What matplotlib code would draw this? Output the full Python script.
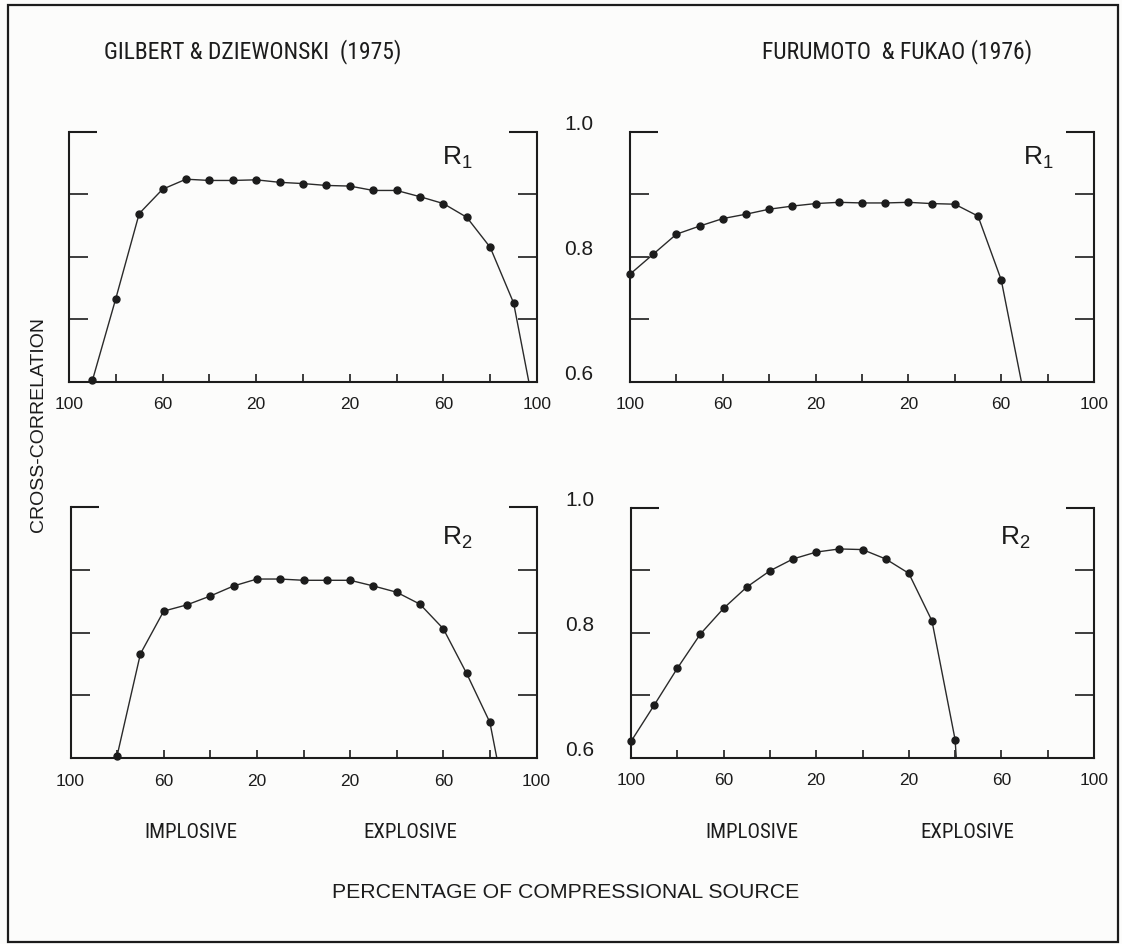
import matplotlib
matplotlib.use("Agg")
import matplotlib.pyplot as plt
from matplotlib import transforms, font_manager
from matplotlib.patches import Rectangle

W, H, DPI = 1122, 944, 100
INK = "#1c1c1c"
REGULAR = ["Liberation Sans", "DejaVu Sans"]

# Pick a condensed face for the lettering-style labels, if one is installed
_fonts = font_manager.fontManager.ttflist
_names = {f.name for f in _fonts}
NARROW, STRETCH, SCALE = "Liberation Sans", "normal", 0.82
for cand in ["Liberation Sans Narrow", "Roboto Condensed", "DejaVu Sans Condensed",
             "Open Sans Condensed", "Noto Sans Condensed", "Arial Narrow"]:
    if cand in _names:
        NARROW, STRETCH, SCALE = cand, "normal", 1.0
        break
else:
    for f in _fonts:
        if f.stretch in ("condensed", "semi-condensed") and f.style == "normal" \
                and f.weight in (400, "normal", "regular"):
            NARROW, STRETCH, SCALE = f.name, f.stretch, 1.0
            break

# Percentage of compressional source: negative = implosive, positive = explosive
pct_gd_r1 = [-90, -80, -70, -60, -50, -40, -30, -20, -10, 0, 10, 20, 30, 40, 50, 60, 70, 80, 90]
gd_r1 = [0.602, 0.733, 0.869, 0.908, 0.924, 0.922, 0.922, 0.923, 0.919, 0.917,
         0.914, 0.913, 0.906, 0.906, 0.896, 0.885, 0.863, 0.815, 0.726]
gd_r1_end = (96.5, 0.60)

pct_ff_r1 = [-100, -90, -80, -70, -60, -50, -40, -30, -20, -10, 0, 10, 20, 30, 40, 50, 60]
ff_r1 = [0.772, 0.804, 0.836, 0.849, 0.861, 0.868, 0.876, 0.881, 0.885, 0.887,
         0.886, 0.886, 0.887, 0.885, 0.884, 0.865, 0.763]
ff_r1_end = (68.7, 0.60)

pct_gd_r2 = [-80, -70, -60, -50, -40, -30, -20, -10, 0, 10, 20, 30, 40, 50, 60, 70, 80]
gd_r2 = [0.604, 0.766, 0.834, 0.844, 0.858, 0.874, 0.885, 0.885, 0.883, 0.883,
         0.883, 0.874, 0.864, 0.845, 0.806, 0.735, 0.657]
gd_r2_end = (83.0, 0.60)

pct_ff_r2 = [-100, -90, -80, -70, -60, -50, -40, -30, -20, -10, 0, 10, 20, 30, 40]
ff_r2 = [0.626, 0.684, 0.743, 0.798, 0.839, 0.873, 0.899, 0.918, 0.929, 0.934,
         0.933, 0.918, 0.895, 0.819, 0.629]
ff_r2_end = (40.5, 0.60)

x_ticks = list(range(-100, 101, 20))
x_tick_labels = ["100", "", "60", "", "20", "", "20", "", "60", "", "100"]
y_labels = [1.0, 0.8, 0.6]

fig = plt.figure(figsize=(W / DPI, H / DPI), dpi=DPI, facecolor="#fcfcfb")


def nfont(size):
    return dict(fontfamily=NARROW, fontstretch=STRETCH, fontsize=size * SCALE, color=INK)


def px_axes(left, top, right, bottom):
    return fig.add_axes([left / W, 1 - bottom / H, (right - left) / W, (bottom - top) / H])


def setup(ax):
    ax.set_facecolor("none")
    ax.set_xlim(-100, 100)
    ax.set_ylim(0.6, 1.0)
    ax.spines["top"].set_visible(False)
    for s in ("left", "right", "bottom"):
        ax.spines[s].set_linewidth(1.5)
        ax.spines[s].set_color(INK)
    ax.set_xticks(x_ticks)
    ax.set_xticklabels(x_tick_labels, fontfamily=REGULAR, fontsize=12.5, color=INK)
    ax.set_xticks([0], minor=True)
    ax.tick_params(axis="x", which="major", direction="in", length=6, width=1.2,
                   pad=11, colors=INK)
    ax.tick_params(axis="x", which="minor", direction="inout", length=40, width=1.4,
                   colors=INK)
    ax.set_yticks([0.7, 0.8, 0.9])
    ax.set_yticks([1.0], minor=True)
    ax.tick_params(axis="y", which="both", direction="in", left=True, right=True,
                   labelleft=False, labelright=False, colors=INK)
    ax.tick_params(axis="y", which="major", length=14, width=1.2)
    ax.tick_params(axis="y", which="minor", length=20, width=1.5)


def curve(ax, pct, vals, end):
    ax.plot(list(pct) + [end[0]], list(vals) + [end[1]], "-", color="#2a2a2a", lw=1.0)
    ax.plot(pct, vals, "o", color=INK, ms=5, clip_on=False)


def r_label(ax_px_left, ax_px_top, sub):
    fig.text(ax_px_left / W, 1 - ax_px_top / H, r"$\mathregular{R_%s}$" % sub,
             fontfamily=REGULAR, fontsize=19, color=INK, ha="left", va="top")


def y_value_labels(ax):
    tr = transforms.offset_copy(ax.transData, fig=fig, x=-51, y=7, units="dots")
    for v in y_labels:
        ax.text(-100, v, f"{v:.1f}", transform=tr, ha="center", va="center",
                fontfamily=REGULAR, fontsize=15, color=INK)


ax_tl = px_axes(69, 131.7, 537, 381.7)
ax_tr = px_axes(630, 131.7, 1094, 381.7)
ax_bl = px_axes(70.5, 506.7, 536.5, 758.3)
ax_br = px_axes(631, 507.7, 1094, 757.7)

for ax in (ax_tl, ax_tr, ax_bl, ax_br):
    setup(ax)

curve(ax_tl, pct_gd_r1, gd_r1, gd_r1_end)
curve(ax_tr, pct_ff_r1, ff_r1, ff_r1_end)
curve(ax_bl, pct_gd_r2, gd_r2, gd_r2_end)
curve(ax_br, pct_ff_r2, ff_r2, ff_r2_end)

y_value_labels(ax_tr)
y_value_labels(ax_br)

r_label(442, 145, "1")
r_label(1023, 145, "1")
r_label(442, 525, "2")
r_label(1000, 525, "2")

fig.text(104 / W, 1 - 52 / H, "GILBERT & DZIEWONSKI  (1975)", ha="left", va="center",
         **nfont(17))
fig.text(762 / W, 1 - 52 / H, "FURUMOTO  & FUKAO (1976)", ha="left", va="center",
         **nfont(17))
fig.text(38.5 / W, 1 - 424 / H, "CROSS-CORRELATION", fontfamily=REGULAR,
         fontsize=14, color=INK, ha="center", va="center", rotation=90)

for x, word in ((191, "IMPLOSIVE"), (410, "EXPLOSIVE"), (752, "IMPLOSIVE"), (967, "EXPLOSIVE")):
    fig.text(x / W, 1 - 833 / H, word, ha="center", va="center", **nfont(15))

fig.text(566 / W, 1 - 892 / H, "PERCENTAGE OF COMPRESSIONAL SOURCE", fontfamily=REGULAR,
         fontsize=15.3, color=INK, ha="center", va="center")

fig.add_artist(Rectangle((8 / W, 1 - 942 / H), (1118 - 8) / W, (942 - 5) / H,
                         transform=fig.transFigure, fill=False, lw=1.6, edgecolor=INK))

fig.savefig("out.png", dpi=DPI, facecolor=fig.get_facecolor())
